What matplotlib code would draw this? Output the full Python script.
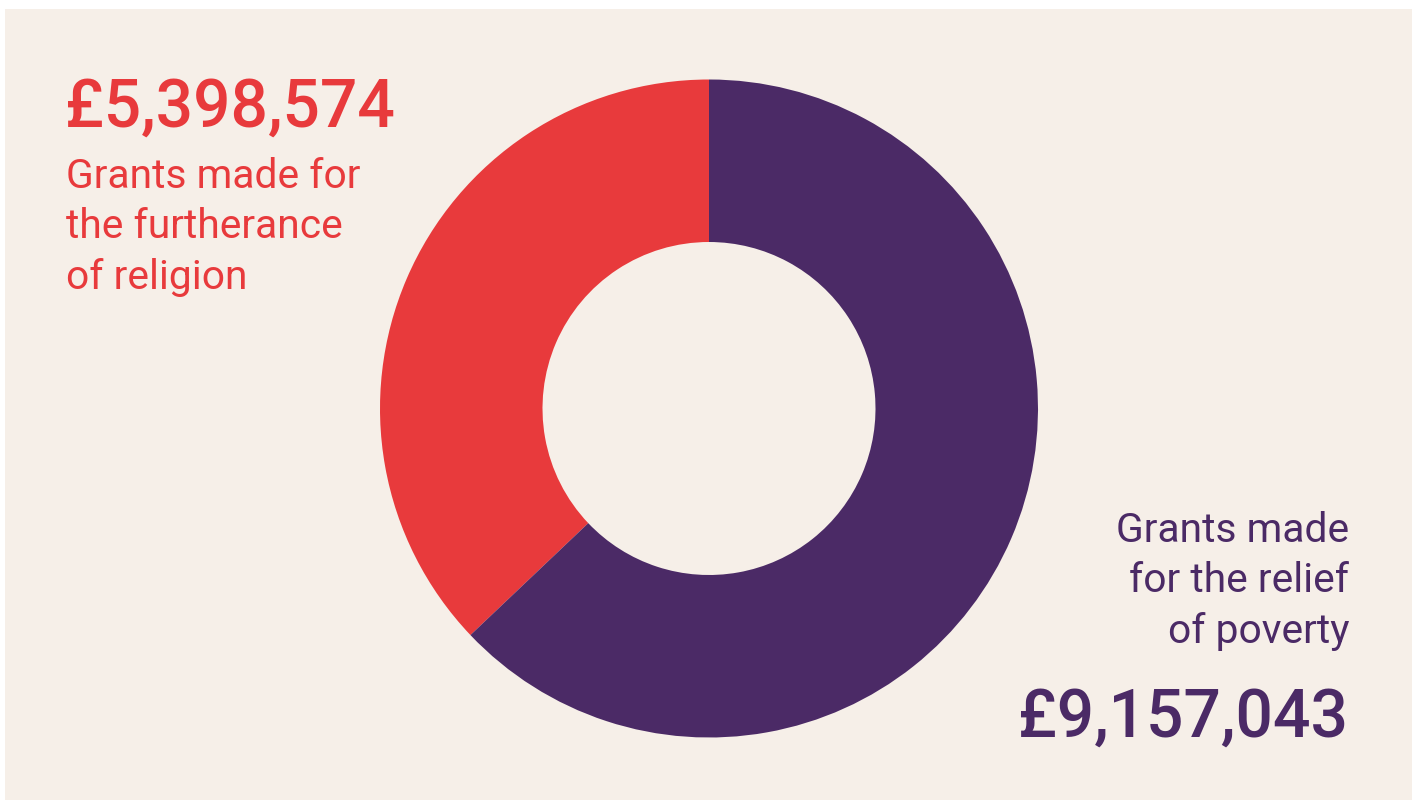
import matplotlib
matplotlib.use("Agg")
import matplotlib.pyplot as plt
from matplotlib.patches import Rectangle

# Grant totals by purpose
categories = ["Grants made for the furtherance of religion",
              "Grants made for the relief of poverty"]
values = [5398574, 9157043]
colors = ["#E83A3C", "#4B2A66"]

left_lines = ["Grants made for", "the furtherance", "of religion"]
right_lines = ["Grants made", "for the relief", "of poverty"]

W, H = 1417, 800
fig = plt.figure(figsize=(W / 100, H / 100), dpi=100)
fig.patch.set_facecolor("white")
ax = fig.add_axes([0, 0, 1, 1])
ax.set_xlim(0, W)
ax.set_ylim(0, H)
ax.set_aspect("equal")
ax.axis("off")

bg = "#F6EFE8"
ax.add_patch(Rectangle((5, 0), 1407, H - 9, facecolor=bg, edgecolor="none", zorder=0))

ax.pie(values, colors=colors, startangle=90, counterclock=True,
       center=(709, H - 408.5), radius=329, frame=True,
       wedgeprops=dict(width=329 - 166.5, edgecolor="none", linewidth=0))
ax.set_xlim(0, W)
ax.set_ylim(0, H)
ax.axis("off")

font = "Roboto"

def money(v):
    return "£{:,}".format(v)

# left block: amount then description
ax.text(65, H - 127, money(values[0]), color=colors[0], fontsize=47.5,
        fontfamily=font, fontweight="medium", ha="left", va="baseline")
for i, line in enumerate(left_lines):
    ax.text(66, H - (188 + 50.5 * i), line, color=colors[0], fontsize=29.3,
            fontfamily=font, ha="left", va="baseline")

# right block: description then amount
for i, line in enumerate(right_lines):
    ax.text(1349, H - (542 + 50.5 * i), line, color=colors[1], fontsize=29.3,
            fontfamily=font, ha="right", va="baseline")
ax.text(1348, H - 737, money(values[1]), color=colors[1], fontsize=47.5,
        fontfamily=font, fontweight="medium", ha="right", va="baseline")

fig.savefig("out.png", dpi=100, facecolor=fig.get_facecolor())
